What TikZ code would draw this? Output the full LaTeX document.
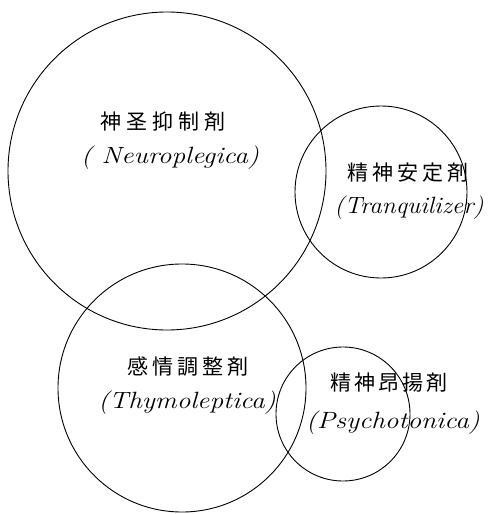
\documentclass[tikz,border=0pt]{standalone}
\usepackage{fontspec}
\usepackage{graphicx}
\newfontfamily\cjk{Noto Sans CJK JP}[Scale=1]
\newcommand{\jpt}[1]{{\cjk\fontsize{21}{24}\selectfont #1}}
\newcommand{\lat}[2][1.3]{\scalebox{#1}[1.12]{\itshape\fontsize{21}{24}\selectfont #2}}
\begin{document}
\begin{tikzpicture}[x=1pt,y=-1pt,
  ring/.style={draw=black,line width=0.9pt},
  lbl/.style={inner sep=0pt}]
\useasboundingbox (0,0) rectangle (489,514);
\node[ring,circle,minimum size=318pt,inner sep=0pt] (neuro) at (167,171) {};
\node[ring,circle,minimum size=172pt,inner sep=0pt] (tranq) at (381,192) {};
\node[ring,circle,minimum size=248pt,inner sep=0pt] (thymo) at (182,388) {};
\node[ring,circle,minimum size=134pt,inner sep=0pt] (psych) at (343,414) {};
\node[lbl] (n1) at (163,122) {\jpt{神\hspace{5pt}圣\hspace{5pt}抑\hspace{5pt}制\hspace{5pt}剤}};
\node[lbl] (n2) at (170,158) {\lat{( Neuroplegica)}};
\node[lbl] (t1) at (408,173) {\jpt{精\hspace{4pt}神\hspace{4pt}安\hspace{4pt}定\hspace{4pt}剤}};
\node[lbl] (t2) at (409,208) {\lat[1.2]{(Tranquilizer)}};
\node[lbl] (y1) at (188,367) {\jpt{感\hspace{4pt}情\hspace{4pt}調\hspace{4pt}整\hspace{4pt}剤}};
\node[lbl] (y2) at (187,403) {\lat{(Thymoleptica)}};
\node[lbl] (p1) at (389,383) {\jpt{精\hspace{3pt}神\hspace{3pt}昂\hspace{3pt}揚\hspace{3pt}剤}};
\node[lbl] (p2) at (393,423) {\lat{(Psychotonica)}};
\end{tikzpicture}
\end{document}
